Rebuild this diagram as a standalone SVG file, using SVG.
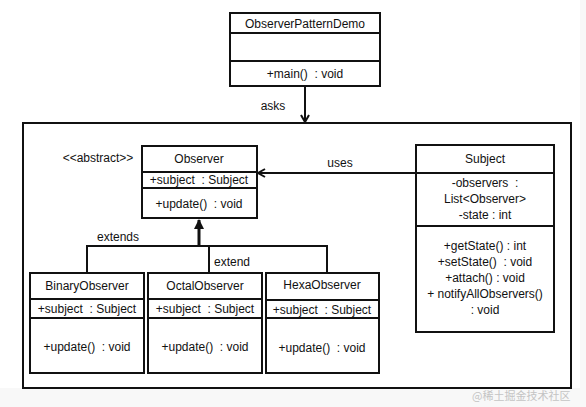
<svg xmlns="http://www.w3.org/2000/svg" width="586" height="407" viewBox="0 0 586 407" xml:space="preserve">
<defs>
<style>
.box{fill:#fff;stroke:#111;stroke-width:2}
.ln{stroke:#111;stroke-width:2;fill:none}
text{font-family:"Liberation Sans",Arial,sans-serif;font-size:12px;fill:#111;text-anchor:middle;white-space:pre}
.wm{font-family:"Noto Sans CJK SC",sans-serif;font-size:11px;fill:#c4c4c4;text-anchor:start}
</style>
<marker id="open" markerWidth="10" markerHeight="10" refX="8" refY="5" orient="auto" markerUnits="userSpaceOnUse">
<path d="M1,1 L8,5 L1,9" fill="none" stroke="#111" stroke-width="2"/>
</marker>
<marker id="solid" markerWidth="12" markerHeight="12" refX="9" refY="6" orient="auto" markerUnits="userSpaceOnUse">
<path d="M0,1 L10,6 L0,11 Z" fill="#111"/>
</marker>
</defs>
<rect width="586" height="407" fill="#f8f8f8"/>
<rect x="0" y="0" width="580" height="388" fill="#fff"/>
<rect x="23" y="123" width="548" height="265" class="box"/>

<g id="connectors">
<line x1="305" y1="86" x2="305" y2="122" class="ln" marker-end="url(#open)"/>
<text x="273" y="110">asks</text>
<line x1="416" y1="173" x2="258" y2="173" class="ln" marker-end="url(#open)"/>
<text x="340" y="167">uses</text>
<polyline points="87,273 87,246 327,246 327,273" class="ln"/>
<line x1="209" y1="246" x2="209" y2="273" class="ln"/>
<line x1="199" y1="246" x2="199" y2="220" stroke="#111" stroke-width="3" marker-end="url(#solid)"/>
<text x="118" y="241">extends</text>
<text x="232" y="266">extend</text>
</g>

<g id="ObserverPatternDemo">
<rect x="230" y="13" width="150" height="73" class="box"/>
<line x1="230" y1="33" x2="380" y2="33" class="ln"/>
<line x1="230" y1="61" x2="380" y2="61" class="ln"/>
<text x="305" y="28">ObserverPatternDemo</text>
<text x="305" y="78">+main()  : void</text>
</g>

<g id="Observer">
<text x="98" y="162">&lt;&lt;abstract&gt;&gt;</text>
<rect x="142" y="146" width="115" height="72" class="box"/>
<line x1="142" y1="172" x2="257" y2="172" class="ln"/>
<line x1="142" y1="188" x2="257" y2="188" class="ln"/>
<text x="199" y="163">Observer</text>
<text x="199" y="184">+subject  : Subject</text>
<text x="199" y="208">+update()  : void</text>
</g>

<g id="Subject">
<rect x="416" y="145" width="138" height="187" class="box"/>
<line x1="416" y1="173" x2="554" y2="173" class="ln"/>
<line x1="416" y1="226" x2="554" y2="226" class="ln"/>
<text x="485" y="163">Subject</text>
<text x="485" y="187">-observers  :</text>
<text x="485" y="203">List&lt;Observer&gt;</text>
<text x="485" y="219">-state : int</text>
<text x="485" y="250">+getState() : int</text>
<text x="485" y="266">+setState()  : void</text>
<text x="485" y="282">+attach() : void</text>
<text x="485" y="298">+ notifyAllObservers()</text>
<text x="485" y="314">: void</text>
</g>

<g id="BinaryObserver">
<rect x="30" y="273" width="114" height="100" class="box"/>
<line x1="30" y1="299" x2="144" y2="299" class="ln"/>
<line x1="30" y1="318" x2="144" y2="318" class="ln"/>
<text x="87" y="290">BinaryObserver</text>
<text x="87" y="313">+subject  : Subject</text>
<text x="87" y="351">+update()  : void</text>
</g>

<g id="OctalObserver">
<rect x="148" y="273" width="114" height="100" class="box"/>
<line x1="148" y1="299" x2="262" y2="299" class="ln"/>
<line x1="148" y1="318" x2="262" y2="318" class="ln"/>
<text x="205" y="290">OctalObserver</text>
<text x="205" y="313">+subject  : Subject</text>
<text x="205" y="351">+update()  : void</text>
</g>

<g id="HexaObserver">
<rect x="266" y="273" width="113" height="100" class="box"/>
<line x1="266" y1="300" x2="379" y2="300" class="ln"/>
<line x1="266" y1="318" x2="379" y2="318" class="ln"/>
<text x="322" y="289">HexaObserver</text>
<text x="322" y="314">+subject  : Subject</text>
<text x="322" y="352">+update()  : void</text>
</g>

<text class="wm" x="472" y="400">@稀土掘金技术社区</text>
</svg>
